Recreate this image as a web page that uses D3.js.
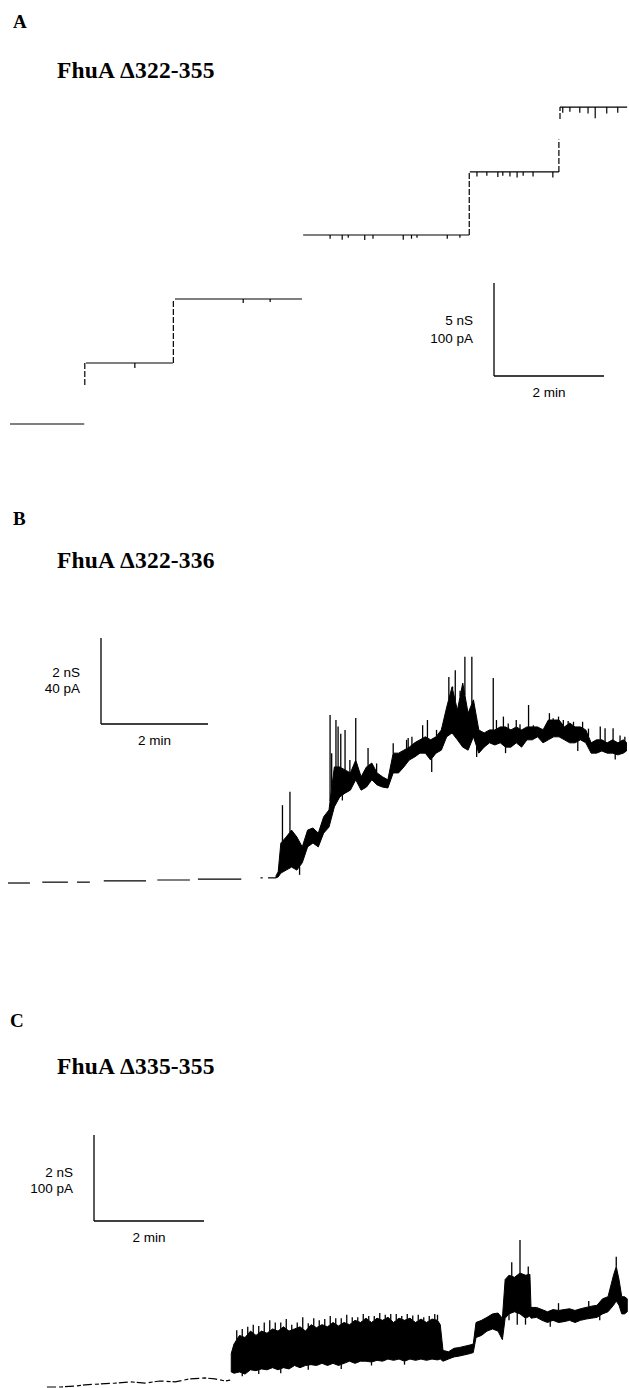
<!DOCTYPE html>
<html><head><meta charset="utf-8">
<script src="https://cdn.jsdelivr.net/npm/d3@7"></script>
<style>html,body{margin:0;padding:0;background:#fff}svg{display:block}</style>
</head><body><svg id="c" width="629" height="1388"></svg>
<script>
// ---------------- DATA (time in min, conductance in nS) ----------------
const panelLetters = ["A", "B", "C"];
const panelTitles = ["FhuA \u0394322-355", "FhuA \u0394322-336", "FhuA \u0394335-355"];
const barMinutes = [2, 2, 2];
const barNS = [5, 2, 2];
const barPA = [100, 40, 100];

// Panel A: conductance steps [tStart, tEnd, g]
const aLevels = [[0, 1.35, 0], [1.38, 2.96, 3.28], [3.0, 5.31, 6.72], [5.33, 8.35, 10.16], [8.36, 9.98, 13.55], [10.0, 11.22, 17.04]];
// Panel A: insertion jumps [t, gFrom, gTo]
const aJumps = [[1.36, 2.1, 3.28], [2.97, 3.28, 6.72], [8.35, 10.16, 13.55], [9.98, 13.55, 15.3], [10.0, 16.4, 17.04]];
// Panel A: brief closures [t, depth]
const aDips = [[2.27, 0.27], [4.24, 0.22], [4.73, 0.16], [5.82, 0.2], [6.04, 0.25], [6.15, 0.15], [6.45, 0.27], [6.6, 0.2], [7.15, 0.25], [7.3, 0.2], [7.4, 0.15], [7.95, 0.2], [8.18, 0.15], [8.49, 0.25], [8.67, 0.2], [8.87, 0.27], [8.96, 0.2], [9.09, 0.25], [9.22, 0.3], [9.33, 0.2], [9.51, 0.25], [9.87, 0.3], [10.05, 0.3], [10.18, 0.25], [10.36, 0.3], [10.51, 0.35], [10.64, 0.6], [10.85, 0.35], [11.05, 0.3]];

// Panel B: baseline pieces [t0, t1, g0, g1]
const bBase = [[0, 0.41, -0.07, -0.07], [0.64, 1.12, -0.05, -0.05], [1.29, 1.53, -0.05, -0.05], [1.79, 2.58, -0.02, -0.02], [2.79, 3.4, 0, 0], [3.55, 4.36, 0.02, 0.02], [4.72, 4.76, 0.05, 0.05], [4.86, 5.01, 0.05, 0.05]];
// Panel B: noisy envelope [t, low, high]
const bEnv = [[5.01, 0.05, 0.1], [5.05, 0.07, 0.19], [5.1, 0.16, 0.86], [5.2, 0.23, 1.0], [5.3, 0.3, 1.16], [5.4, 0.23, 1.0], [5.5, 0.4, 0.77], [5.6, 0.77, 1.16], [5.7, 0.86, 1.21], [5.8, 0.77, 1.09], [5.9, 1.09, 1.47], [6.0, 1.23, 1.63], [6.1, 1.7, 2.63], [6.2, 1.93, 2.63], [6.3, 2.02, 2.56], [6.4, 2.09, 2.49], [6.5, 2.33, 2.79], [6.6, 2.09, 2.4], [6.7, 2.16, 2.63], [6.8, 2.33, 2.72], [6.9, 2.21, 2.49], [7.0, 2.16, 2.4], [7.1, 2.14, 2.33], [7.2, 2.49, 2.95], [7.3, 2.49, 2.95], [7.4, 2.63, 3.02], [7.5, 2.79, 3.09], [7.6, 2.86, 3.19], [7.7, 2.95, 3.26], [7.8, 2.95, 3.33], [7.9, 2.79, 3.26], [8.0, 2.95, 3.33], [8.1, 3.02, 3.49], [8.2, 3.33, 4.02], [8.3, 3.42, 4.49], [8.4, 3.26, 3.95], [8.5, 3.09, 4.58], [8.6, 3.02, 3.88], [8.7, 3.33, 4.19], [8.8, 2.95, 3.49], [8.9, 3.09, 3.42], [9.0, 3.19, 3.49], [9.1, 3.14, 3.49], [9.2, 3.19, 3.56], [9.3, 3.09, 3.56], [9.4, 3.09, 3.49], [9.5, 3.19, 3.56], [9.6, 3.09, 3.49], [9.7, 3.26, 3.56], [9.8, 3.26, 3.56], [9.9, 3.33, 3.56], [10.0, 3.19, 3.49], [10.1, 3.26, 3.72], [10.2, 3.33, 3.72], [10.3, 3.33, 3.72], [10.4, 3.26, 3.56], [10.5, 3.19, 3.65], [10.6, 3.19, 3.56], [10.7, 3.26, 3.56], [10.8, 3.19, 3.49], [10.9, 2.95, 3.19], [11.0, 2.95, 3.26], [11.1, 3.0, 3.26], [11.2, 2.95, 3.19], [11.3, 2.95, 3.26], [11.4, 2.91, 3.19], [11.5, 2.95, 3.26], [11.56, 3.0, 3.2]];
// Panel B: spikes [t, peak] and drops [t, low]
const bSpikes = [[5.13, 1.74], [5.27, 2.05], [6.02, 3.84], [6.05, 2.95], [6.13, 3.72], [6.17, 3.57], [6.22, 3.4], [6.30, 3.49], [6.39, 2.79], [6.50, 3.77], [6.73, 3.07], [6.89, 2.71], [7.2, 3.18], [7.27, 2.95], [7.36, 2.87], [7.45, 3.26], [7.48, 3.3], [7.55, 3.33], [7.64, 3.1], [7.75, 3.6], [7.84, 3.72], [8.01, 3.49], [8.11, 3.5], [8.24, 4.72], [8.31, 4.5], [8.36, 4.88], [8.45, 4.4], [8.54, 5.19], [8.67, 5.19], [9.07, 4.7], [9.13, 3.72], [9.26, 3.8], [9.35, 3.64], [9.5, 3.72], [9.57, 3.62], [9.73, 4.07], [9.82, 3.6], [9.98, 3.52], [10.12, 3.88], [10.19, 3.76], [10.29, 3.8], [10.38, 3.72], [10.47, 3.7], [10.57, 3.68], [10.74, 3.68], [10.85, 3.52], [11.07, 3.57], [11.16, 3.53], [11.31, 3.53], [11.44, 3.36], [11.53, 3.33]];
const bDrops = [[5.45, 0.12], [6.25, 1.85], [7.92, 2.51], [8.76, 2.86], [9.3, 2.95], [10.65, 3.0], [11.35, 2.8]];

// Panel C: baseline [t, g]
const cBase = [[0, 0], [0.24, 0], [0.51, 0.02], [0.69, 0.05], [0.96, 0.07], [1.24, 0.09], [1.51, 0.12], [1.78, 0.09], [2.05, 0.14], [2.33, 0.12], [2.6, 0.19], [2.87, 0.21], [3.05, 0.19], [3.24, 0.14], [3.33, 0.16]];
// Panel C: noisy envelope [t, low, high]
const cEnv = [[3.35, 0.35, 0.78], [3.4, 0.32, 1.0], [3.5, 0.35, 1.2], [3.6, 0.3, 1.15], [3.7, 0.4, 1.3], [3.8, 0.38, 1.2], [3.9, 0.42, 1.3], [4.0, 0.4, 1.25], [4.1, 0.45, 1.35], [4.2, 0.4, 1.3], [4.3, 0.45, 1.4], [4.4, 0.42, 1.3], [4.5, 0.5, 1.35], [4.6, 0.45, 1.4], [4.7, 0.5, 1.3], [4.8, 0.52, 1.45], [4.9, 0.5, 1.38], [5.0, 0.55, 1.45], [5.1, 0.5, 1.4], [5.2, 0.55, 1.5], [5.3, 0.5, 1.42], [5.4, 0.55, 1.5], [5.5, 0.6, 1.45], [5.6, 0.55, 1.55], [5.7, 0.6, 1.5], [5.8, 0.6, 1.6], [5.9, 0.58, 1.5], [6.0, 0.62, 1.6], [6.1, 0.6, 1.55], [6.2, 0.65, 1.62], [6.3, 0.62, 1.5], [6.4, 0.65, 1.6], [6.5, 0.6, 1.55], [6.6, 0.65, 1.6], [6.7, 0.62, 1.5], [6.8, 0.65, 1.58], [6.9, 0.62, 1.5], [7.0, 0.65, 1.58], [7.1, 0.63, 1.55], [7.15, 0.65, 1.45], [7.2, 0.6, 0.85], [7.3, 0.65, 0.82], [7.4, 0.7, 0.9], [7.5, 0.72, 0.92], [7.6, 0.75, 0.95], [7.7, 0.78, 0.98], [7.75, 0.8, 1.0], [7.8, 1.15, 1.5], [7.9, 1.2, 1.55], [8.0, 1.3, 1.62], [8.1, 1.35, 1.7], [8.2, 1.3, 1.72], [8.28, 1.1, 1.6], [8.33, 1.6, 2.5], [8.4, 1.7, 2.6], [8.5, 1.75, 2.55], [8.6, 1.7, 2.65], [8.7, 1.6, 2.6], [8.78, 1.65, 2.62], [8.8, 1.6, 1.85], [8.9, 1.62, 1.85], [9.0, 1.55, 1.8], [9.1, 1.5, 1.75], [9.2, 1.55, 1.8], [9.3, 1.5, 1.78], [9.4, 1.52, 1.8], [9.5, 1.55, 1.82], [9.6, 1.5, 1.78], [9.7, 1.55, 1.82], [9.8, 1.58, 1.85], [9.9, 1.6, 1.88], [10.0, 1.62, 1.9], [10.1, 1.7, 2.05], [10.2, 1.75, 2.1], [10.3, 1.9, 2.6], [10.35, 2.0, 2.8], [10.4, 1.9, 2.5], [10.45, 1.7, 2.1], [10.5, 1.7, 2.1], [10.55, 1.75, 2.05]];
const cSpikes = [[3.45, 1.32], [3.55, 1.35], [3.65, 1.4], [3.75, 1.45], [3.85, 1.42], [3.95, 1.5], [4.05, 1.55], [4.15, 1.5], [4.25, 1.5], [4.35, 1.58], [4.45, 1.45], [4.55, 1.5], [4.65, 1.62], [4.75, 1.48], [4.85, 1.6], [4.95, 1.55], [5.05, 1.58], [5.15, 1.65], [5.25, 1.6], [5.35, 1.6], [5.45, 1.68], [5.55, 1.62], [5.65, 1.62], [5.75, 1.7], [5.85, 1.65], [5.95, 1.65], [6.05, 1.72], [6.15, 1.68], [6.25, 1.7], [6.35, 1.7], [6.45, 1.65], [6.55, 1.7], [6.65, 1.66], [6.75, 1.68], [6.85, 1.62], [6.95, 1.65], [7.05, 1.7], [7.1, 1.68], [8.45, 2.9], [8.6, 3.42], [8.75, 2.8], [9.3, 1.95], [9.85, 2.0], [10.35, 3.03]];
const cDrops = [[3.55, 0.25], [3.85, 0.3], [4.25, 0.32], [4.75, 0.4], [5.35, 0.42], [5.9, 0.5], [6.5, 0.52], [8.4, 1.55], [8.55, 1.45], [8.7, 1.45], [9.15, 1.4], [10.05, 1.55]];

// ---------------- LAYOUT ----------------
const layout = [
  { x0: 10, pxMin: 55, y0: 424, pxNS: 18.6, letterY: 28, titleY: 78, bar: [494, 376], lab1Y: 325, lab2Y: 343 },
  { x0: 8, pxMin: 53.5, y0: 880, pxNS: 43, letterY: 525, titleY: 568, bar: [101, 724], lab1Y: 677, lab2Y: 693 },
  { x0: 47, pxMin: 55, y0: 1387, pxNS: 43, letterY: 1027, titleY: 1074, bar: [94, 1221], lab1Y: 1177, lab2Y: 1193 }
];

const svg = d3.select("#c");
svg.append("rect").attr("width", 629).attr("height", 1388).attr("fill", "#fff");

const scales = layout.map(L => ({
  x: d3.scaleLinear().domain([0, 1]).range([L.x0, L.x0 + L.pxMin]),
  y: d3.scaleLinear().domain([0, 1]).range([L.y0, L.y0 - L.pxNS])
}));

// Letters and titles
layout.forEach((L, i) => {
  svg.append("text").attr("x", i === 2 ? 10 : 13).attr("y", L.letterY)
    .attr("font-family", "'Liberation Serif', 'DejaVu Serif', serif").attr("font-weight", "bold")
    .attr("font-size", 19).text(panelLetters[i]);
  svg.append("text").attr("x", 57).attr("y", L.titleY)
    .attr("font-family", "'Liberation Serif', 'DejaVu Serif', serif").attr("font-weight", "bold")
    .attr("font-size", 23.5).attr("letter-spacing", 0.2).text(panelTitles[i]);
});

// Scale bars
layout.forEach((L, i) => {
  const s = scales[i];
  const [ox, oy] = L.bar;
  const w = s.x(barMinutes[i]) - s.x(0);
  const h = s.y(0) - s.y(barNS[i]);
  const g = svg.append("g").attr("stroke", "#000").attr("fill", "none");
  g.append("line").attr("x1", ox).attr("y1", oy).attr("x2", ox + w).attr("y2", oy).attr("stroke-width", 1.3);
  g.append("line").attr("x1", ox).attr("y1", oy).attr("x2", ox).attr("y2", oy - h).attr("stroke-width", 1.3);
  const tf = "'Liberation Sans', Arial, sans-serif";
  svg.append("text").attr("x", ox - 21).attr("y", L.lab1Y).attr("text-anchor", "end")
    .attr("font-family", tf).attr("font-size", 13.5).text(barNS[i] + " nS");
  svg.append("text").attr("x", ox - 21).attr("y", L.lab2Y).attr("text-anchor", "end")
    .attr("font-family", tf).attr("font-size", 13.5).text(barPA[i] + " pA");
  svg.append("text").attr("x", ox + w / 2).attr("y", oy + 21).attr("text-anchor", "middle")
    .attr("font-family", tf).attr("font-size", 13.5).text(barMinutes[i] + " min");
});

// ---------------- Panel A ----------------
(function () {
  const { x, y } = scales[0];
  const g = svg.append("g").attr("stroke", "#000").attr("fill", "none").attr("stroke-width", 1.2);
  g.selectAll("line.lv").data(aLevels).join("line").attr("class", "lv")
    .attr("x1", d => x(d[0])).attr("x2", d => x(d[1])).attr("y1", d => y(d[2])).attr("y2", d => y(d[2]));
  g.selectAll("line.jp").data(aJumps).join("line").attr("class", "jp")
    .attr("x1", d => x(d[0])).attr("x2", d => x(d[0])).attr("y1", d => y(d[1])).attr("y2", d => y(d[2]))
    .attr("stroke-dasharray", "6,2");
  const levelAt = t => { const L = aLevels.find(l => t >= l[0] && t <= l[1]); return L ? L[2] : 0; };
  g.selectAll("line.dp").data(aDips).join("line").attr("class", "dp")
    .attr("x1", d => x(d[0])).attr("x2", d => x(d[0]))
    .attr("y1", d => y(levelAt(d[0]))).attr("y2", d => y(levelAt(d[0]) - d[1]));
})();

// helpers for noisy traces
function interp(env, t, k) {
  const i = d3.bisector(d => d[0]).left(env, t);
  if (i <= 0) return env[0][k];
  if (i >= env.length) return env[env.length - 1][k];
  const a = env[i - 1], b = env[i];
  return a[k] + (b[k] - a[k]) * (t - a[0]) / (b[0] - a[0]);
}
function drawNoisy(s, env, spikes, drops) {
  const { x, y } = s;
  const area = d3.area().x(d => x(d[0])).y0(d => y(d[1])).y1(d => y(d[2]));
  svg.append("path").datum(env).attr("d", area).attr("fill", "#000").attr("stroke", "#000").attr("stroke-width", 1);
  const g = svg.append("g").attr("stroke", "#000").attr("stroke-width", 1.3);
  g.selectAll("line.sp").data(spikes).join("line").attr("class", "sp")
    .attr("x1", d => x(d[0])).attr("x2", d => x(d[0]))
    .attr("y1", d => y(interp(env, d[0], 2))).attr("y2", d => y(d[1]));
  g.selectAll("line.dr").data(drops).join("line").attr("class", "dr")
    .attr("x1", d => x(d[0])).attr("x2", d => x(d[0]))
    .attr("y1", d => y(interp(env, d[0], 1))).attr("y2", d => y(d[1]));
}

// ---------------- Panel B ----------------
(function () {
  const { x, y } = scales[1];
  svg.append("g").attr("stroke", "#000").attr("stroke-width", 1.2)
    .selectAll("line").data(bBase).join("line")
    .attr("x1", d => x(d[0])).attr("x2", d => x(d[1])).attr("y1", d => y(d[2])).attr("y2", d => y(d[3]));
  drawNoisy(scales[1], bEnv, bSpikes, bDrops);
})();

// ---------------- Panel C ----------------
(function () {
  const { x, y } = scales[2];
  const line = d3.line().x(d => x(d[0])).y(d => y(d[1]));
  svg.append("path").datum(cBase).attr("d", line).attr("fill", "none").attr("stroke", "#000")
    .attr("stroke-width", 1.2).attr("stroke-dasharray", "9,3,4,2");
  drawNoisy(scales[2], cEnv, cSpikes, cDrops);
})();
</script>
</body></html>
